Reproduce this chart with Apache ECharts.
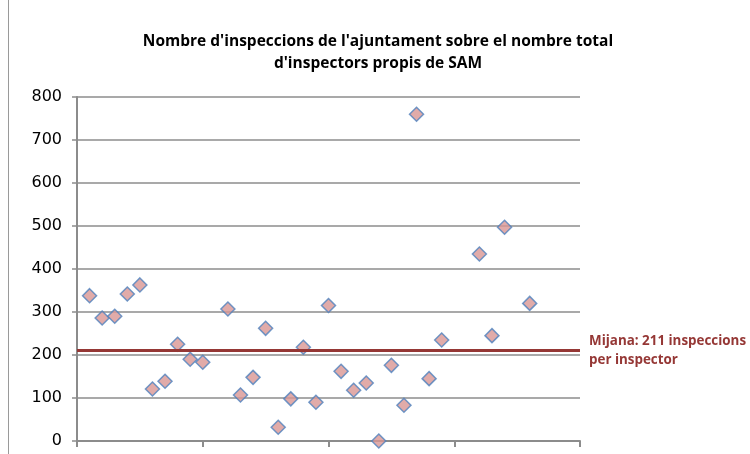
<!DOCTYPE html>
<html>
<head>
<meta charset="utf-8">
<script src="https://cdn.jsdelivr.net/npm/echarts@6/dist/echarts.min.js"></script>
<style>
  html, body { margin: 0; padding: 0; background: #fff; }
  #chart { width: 750px; height: 454px; }
</style>
</head>
<body>
<div id="chart"></div>
<script>
// Municipality index (position along the horizontal axis)
const municipis = [1, 2, 3, 4, 5, 6, 7, 8, 9, 10, 12, 13, 14, 15, 16, 17, 18, 19, 20, 21, 22, 23, 24, 25, 26, 27, 28, 29, 32, 33, 34, 36];
// Inspections per own SAM inspector
const inspeccions = [338, 286, 290, 342, 363, 121, 139, 225, 190, 183, 307, 107, 148, 262, 32, 98, 218, 90, 315, 162, 118, 135, 0, 176, 83, 760, 145, 235, 435, 245, 497, 320];
// Average across municipalities
const mitjana = 211;
// Y-axis ticks
const yTicks = [0, 100, 200, 300, 400, 500, 600, 700, 800];

const titol = "Nombre d'inspeccions de l'ajuntament sobre el nombre total\nd'inspectors propis de SAM";

const punts = municipis.map((m, i) => [m, inspeccions[i]]);

const chart = echarts.init(document.getElementById('chart'), null, { renderer: 'canvas' });
const gris = '#8c8c8c';
const font = '"Open Sans", sans-serif';

chart.setOption({
  animation: false,
  backgroundColor: '#ffffff',
  title: {
    text: titol,
    left: 373,
    textAlign: 'center',
    top: 26,
    textStyle: {
      fontFamily: font,
      fontSize: 15.5,
      fontWeight: 'bold',
      color: '#000',
      lineHeight: 22
    }
  },
  grid: { left: 77, right: 170, top: 97, bottom: 13, containLabel: false },
  xAxis: {
    type: 'value',
    min: 0,
    max: 40,
    interval: 10,
    axisLine: { show: true, onZero: false, lineStyle: { color: gris, width: 2 } },
    axisTick: { show: true, length: 6, inside: false, lineStyle: { color: gris, width: 2 } },
    axisLabel: { show: false },
    splitLine: { show: false }
  },
  yAxis: {
    type: 'value',
    min: yTicks[0],
    max: yTicks[yTicks.length - 1],
    interval: yTicks[1] - yTicks[0],
    axisLine: { show: true, lineStyle: { color: gris, width: 2 } },
    axisTick: { show: true, length: 5, lineStyle: { color: gris, width: 1.5 } },
    axisLabel: {
      margin: 15,
      fontFamily: '"DejaVu Sans", sans-serif',
      fontSize: 16,
      color: '#000'
    },
    splitLine: { show: true, lineStyle: { color: gris, width: 1.5 } }
  },
  series: [
    {
      // average reference line
      type: 'line',
      data: [],
      z: 1,
      silent: true,
      markLine: {
        silent: true,
        symbol: ['none', 'none'],
        lineStyle: { color: '#953735', width: 3, type: 'solid' },
        label: {
          show: true,
          position: 'end',
          distance: 9,
          formatter: () => 'Mijana: ' + mitjana + ' inspeccions\nper inspector',
          color: '#953735',
          fontFamily: font,
          fontSize: 13.4,
          fontWeight: 'bold',
          lineHeight: 19,
          align: 'left'
        },
        data: [{ yAxis: mitjana }]
      }
    },
    {
      type: 'scatter',
      z: 3,
      symbol: 'diamond',
      symbolSize: 14,
      itemStyle: {
        color: '#d99694',
        borderColor: '#4f81bd',
        borderWidth: 1.5
      },
      data: punts
    }
  ],
  graphic: [
    {
      // chart-area frame edge
      type: 'line',
      shape: { x1: 8.5, y1: 0, x2: 8.5, y2: 454 },
      style: { stroke: '#9a9a9a', lineWidth: 1 }
    }
  ]
});
</script>
</body>
</html>
